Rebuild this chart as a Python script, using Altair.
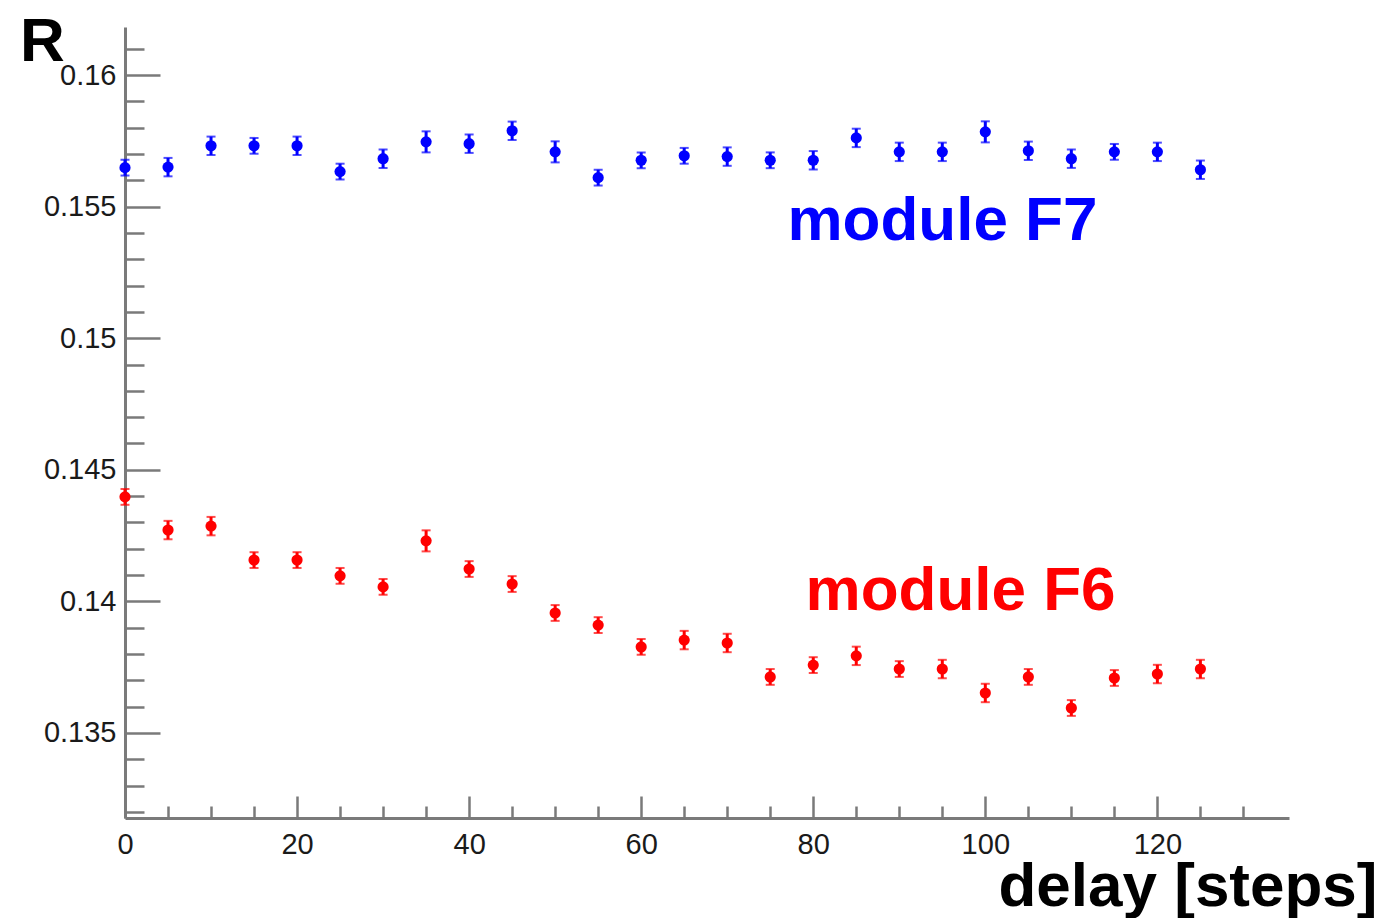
import altair as alt
import pandas as pd

# ---- data ----
delay = [0, 5, 10, 15, 20, 25, 30, 35, 40, 45, 50, 55, 60, 65, 70, 75, 80, 85, 90, 95, 100, 105, 110, 115, 120, 125]
r_f7 = [0.15648, 0.15650, 0.15731, 0.15731, 0.15731, 0.15633, 0.15682, 0.15746, 0.15739, 0.15788,
        0.15708, 0.15610, 0.15676, 0.15693, 0.15690, 0.15676, 0.15676, 0.15761, 0.15708, 0.15708,
        0.15784, 0.15712, 0.15682, 0.15708, 0.15708, 0.15640]
err_f7 = [0.00030, 0.00035, 0.00035, 0.00030, 0.00035, 0.00030, 0.00035, 0.00040, 0.00035, 0.00035,
          0.00040, 0.00030, 0.00030, 0.00030, 0.00035, 0.00030, 0.00035, 0.00035, 0.00035, 0.00035,
          0.00040, 0.00035, 0.00035, 0.00030, 0.00035, 0.00035]
r_f6 = [0.14397, 0.14271, 0.14286, 0.14157, 0.14157, 0.14097, 0.14055, 0.14230, 0.14123, 0.14066,
        0.13956, 0.13910, 0.13827, 0.13853, 0.13842, 0.13713, 0.13758, 0.13793, 0.13743, 0.13743,
        0.13652, 0.13713, 0.13595, 0.13709, 0.13724, 0.13743]
err_f6 = [0.00030, 0.00035, 0.00035, 0.00030, 0.00030, 0.00030, 0.00030, 0.00040, 0.00030, 0.00030,
          0.00030, 0.00030, 0.00030, 0.00035, 0.00035, 0.00030, 0.00030, 0.00035, 0.00030, 0.00035,
          0.00035, 0.00030, 0.00030, 0.00030, 0.00035, 0.00035]

label_text = ["module F7", "module F6"]
label_module = ["F7", "F6"]
label_x = [77.0, 79.1]
label_y = [0.15373, 0.13967]

x_major = [0, 20, 40, 60, 80, 100, 120]
x_minor = [v for v in range(5, 135, 5) if v % 20 != 0]
y_major = [0.135, 0.14, 0.145, 0.15, 0.155, 0.16]
y_minor = [round(0.132 + i * 0.001, 3) for i in range(30) if (132 + i) % 5 != 0]

x_domain = [0, 135.3]
y_domain = [0.13177, 0.161824]

# ---- tables ----
rows = []
for mod, rv, ev in (("F7", r_f7, err_f7), ("F6", r_f6, err_f6)):
    for d, r, e in zip(delay, rv, ev):
        rows.append({"delay": d, "r": r, "lo": r - e, "hi": r + e, "module": mod})
df = pd.DataFrame(rows)
labels_df = pd.DataFrame({"text": label_text, "module": label_module, "x": label_x, "y": label_y})

W, H = 1164, 791
FONT = "Liberation Sans"
GRAY = "#7a7a7a"

xs = alt.Scale(domain=x_domain, nice=False, zero=False)
ys = alt.Scale(domain=y_domain, nice=False, zero=False)
pt_color = alt.Color("module:N", scale=alt.Scale(domain=["F7", "F6"], range=["#0000ff", "#ff0000"]), legend=None)
tx_color = alt.Color("module:N", scale=alt.Scale(domain=["F7", "F6"], range=["#0033ff", "#ff2200"]), legend=None)

x_axis = alt.Axis(values=x_major, ticks=False, grid=False, domainColor=GRAY, domainWidth=3,
                  labelFont=FONT, labelFontSize=29, labelColor="#1a1a1a", labelPadding=12,
                  labelFlush=False,
                  title="delay [steps]", titleFont=FONT, titleFontSize=62, titleFontWeight="bold",
                  titleColor="black", titleAlign="right", titleBaseline="alphabetic",
                  titleX=1252, titleY=87)
y_axis = alt.Axis(values=y_major, ticks=False, grid=False, domainColor=GRAY, domainWidth=3,
                  labelFont=FONT, labelFontSize=29, labelColor="#1a1a1a", labelPadding=9,
                  labelFlush=False,
                  labelExpr="format(datum.value, '.3~f')",
                  title="R", titleFont=FONT, titleFontSize=62, titleFontWeight="bold",
                  titleColor="black", titleAngle=0, titleAlign="center", titleBaseline="alphabetic",
                  titleX=-83, titleY=33)

X = alt.X("delay:Q", scale=xs, axis=x_axis)

bars = alt.Chart(df).mark_rule(strokeWidth=3).encode(
    x=X, y=alt.Y("lo:Q", scale=ys, axis=y_axis), y2="hi:Q", color=pt_color)
cap_lo = alt.Chart(df).mark_tick(orient="horizontal", size=9, thickness=2).encode(
    x=X, y=alt.Y("lo:Q", scale=ys, axis=y_axis), color=pt_color)
cap_hi = alt.Chart(df).mark_tick(orient="horizontal", size=9, thickness=2).encode(
    x=X, y=alt.Y("hi:Q", scale=ys, axis=y_axis), color=pt_color)
dots = alt.Chart(df).mark_circle(size=125, opacity=1).encode(
    x=X, y=alt.Y("r:Q", scale=ys, axis=y_axis), color=pt_color)
texts = alt.Chart(labels_df).mark_text(font=FONT, fontSize=62, fontWeight="bold",
                                      align="left", baseline="alphabetic").encode(
    x=alt.X("x:Q", scale=xs, axis=x_axis), y=alt.Y("y:Q", scale=ys, axis=y_axis),
    text="text:N", color=tx_color)

main = alt.layer(bars, cap_lo, cap_hi, dots, texts)


def tick_layer(channel, values, size):
    base = alt.Chart(df).mark_point(opacity=0)
    if channel == "y":
        ax = alt.Axis(orient="right", offset=-W, values=values, labels=False, domain=False,
                      ticks=True, tickSize=size, tickWidth=2.5, tickColor=GRAY, grid=False, title=None)
        return base.encode(x=alt.X("delay:Q", scale=xs, axis=None),
                           y=alt.Y("r:Q", scale=ys, axis=ax))
    ax = alt.Axis(orient="top", offset=-H, values=values, labels=False, domain=False,
                  ticks=True, tickSize=size, tickWidth=2.5, tickColor=GRAY, grid=False, title=None)
    return base.encode(x=alt.X("delay:Q", scale=xs, axis=ax),
                       y=alt.Y("r:Q", scale=ys, axis=None))


chart = alt.layer(
    main,
    tick_layer("y", y_major, 35),
    tick_layer("y", y_minor, 19),
    tick_layer("x", x_major, 22),
    tick_layer("x", x_minor, 12),
).resolve_scale(x="independent", y="independent").properties(
    width=W, height=H,
    autosize=alt.AutoSizeParams(type="none"),
    padding={"left": 117, "top": 19, "right": 89, "bottom": 100},
    background="white",
).configure_view(stroke=None)

chart.save("out.html", embed_options={"renderer": "svg", "actions": False})
